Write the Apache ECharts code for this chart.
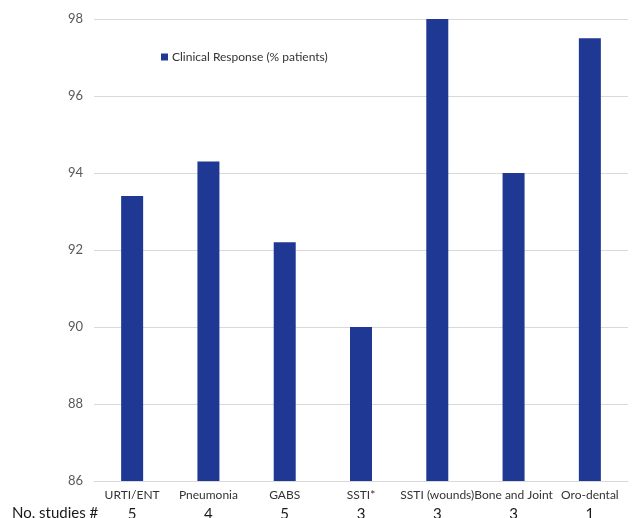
<!DOCTYPE html>
<html>
<head>
<meta charset="utf-8">
<script src="https://cdn.jsdelivr.net/npm/echarts@6/dist/echarts.min.js"></script>
<style>
html,body{margin:0;padding:0;background:#fff;}
#chart{width:633px;height:518px;}
</style>
</head>
<body>
<div id="chart"></div>
<script>
var categories = ['URTI/ENT', 'Pneumonia', 'GABS', 'SSTI*', 'SSTI (wounds)', 'Bone and Joint', 'Oro-dental'];
var clinicalResponse = [93.4, 94.3, 92.2, 90.0, 98.0, 94.0, 97.5];
var studies = [5, 4, 5, 3, 3, 3, 1];
var seriesName = 'Clinical Response (% patients)';
var studiesLabel = 'No. studies #';

var chart = echarts.init(document.getElementById('chart'), null, {renderer: 'canvas'});
var FONT = 'Lato, "Open Sans", sans-serif';
chart.setOption({
  animation: false,
  backgroundColor: '#ffffff',
  textStyle: {fontFamily: FONT},
  grid: {left: 94, right: 5, top: 19, bottom: 37, containLabel: false, outerBoundsMode: 'none'},
  legend: {
    data: [seriesName],
    left: 156, top: 46,
    icon: 'rect', itemWidth: 7, itemHeight: 7, itemGap: 4,
    textStyle: {fontFamily: FONT, fontSize: 12, color: '#333333', padding: [0, 0, 0, -1]}
  },
  xAxis: {
    type: 'category',
    data: categories,
    axisLine: {show: true, lineStyle: {color: '#d9d9d9', width: 1}},
    axisTick: {show: false},
    axisLabel: {
      interval: 0,
      margin: 7,
      formatter: function (value, idx) {
        return '{c|' + value + '}\n{n|' + studies[idx] + '}';
      },
      rich: {
        c: {fontFamily: FONT, fontSize: 12, color: '#333333', lineHeight: 14},
        n: {fontFamily: FONT, fontSize: 15, color: '#1a1a1a', lineHeight: 24}
      }
    }
  },
  yAxis: {
    type: 'value',
    min: 86, max: 98, interval: 2,
    axisLine: {show: false},
    axisTick: {show: false},
    axisLabel: {fontFamily: FONT, fontSize: 13, color: '#595959', margin: 11},
    splitLine: {lineStyle: {color: '#d9d9d9', width: 1}}
  },
  graphic: [{
    type: 'text',
    left: 12, top: 506,
    style: {text: studiesLabel, font: '15px ' + FONT, fill: '#1a1a1a'}
  }],
  series: [{
    name: seriesName,
    type: 'bar',
    data: clinicalResponse,
    barWidth: 22,
    itemStyle: {color: '#1f3894'}
  }]
});
</script>
</body>
</html>
